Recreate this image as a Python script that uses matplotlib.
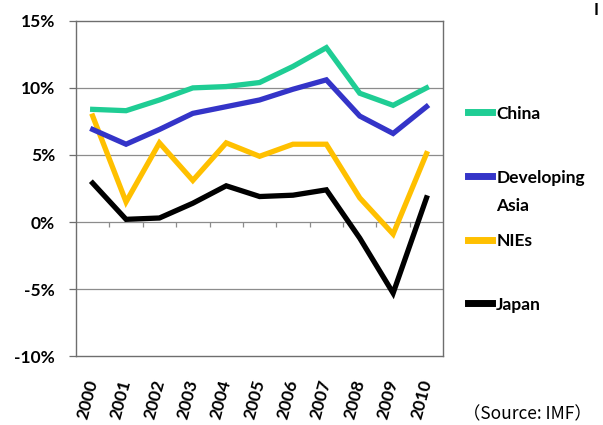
import numpy as np
import matplotlib.pyplot as plt
from matplotlib.lines import Line2D

# GDP growth, % per year
years = ['2000', '2001', '2002', '2003', '2004', '2005',
         '2006', '2007', '2008', '2009', '2010']
china = [8.4, 8.3, 9.1, 10.0, 10.1, 10.4, 11.6, 13.0, 9.6, 8.7, 10.0]
dev_asia = [6.9, 5.8, 6.9, 8.1, 8.6, 9.1, 9.9, 10.6, 7.9, 6.6, 8.6]
nies = [7.9, 1.5, 5.9, 3.1, 5.9, 4.9, 5.8, 5.8, 1.8, -0.9, 5.1]
japan = [2.9, 0.2, 0.3, 1.4, 2.7, 1.9, 2.0, 2.4, -1.2, -5.3, 1.8]
y_ticks = [-10, -5, 0, 5, 10, 15]

font = ['Lato', 'DejaVu Sans']

series = [
    ('China', china, '#1fcd94'),
    ('Developing\nAsia', dev_asia, '#3434c8'),
    ('NIEs', nies, '#ffc000'),
    ('Japan', japan, '#000000'),
]

fig = plt.figure(figsize=(6.03, 4.25), dpi=100)
ax = fig.add_axes([0.126, 0.162, 0.609, 0.789])

x = np.arange(len(years))
# draw back to front so China ends up on top
for name, vals, col in reversed(series):
    ax.plot(x, vals, color=col, lw=3.8, solid_joinstyle='miter')

ax.set_xlim(-0.5, len(years) - 0.5)
ax.set_ylim(-10, 15)

# gridlines and the zero axis line with its category tick marks
for v in y_ticks[1:-1]:
    ax.axhline(v, color='#8c8c8c', lw=0.9, zorder=0)
ax.vlines(x[:-1] + 0.5, -0.35, 0, color='#8c8c8c', lw=0.9, zorder=0)

for side in ['left', 'bottom', 'top', 'right']:
    ax.spines[side].set_color('#6e6e6e')
    ax.spines[side].set_linewidth(1.0)

ax.set_yticks(y_ticks)
ax.set_yticklabels([f'{v}%' for v in y_ticks], family=font,
                   fontsize=12.5, fontweight='bold')
ax.tick_params(axis='y', length=5, width=0.9, color='#6e6e6e', pad=10)

ax.set_xticks(x)
ax.set_xticklabels(years, family=font, fontsize=12.5, fontweight='bold',
                   rotation=75, ha='right', va='center',
                   rotation_mode='anchor')
ax.tick_params(axis='x', length=0, pad=17)

# legend on the right, one text line at a time so the first line sits on the swatch
leg_y = [0.737, 0.586, 0.436, 0.287]
for (name, vals, col), yy in zip(series, leg_y):
    fig.add_artist(Line2D([0.776, 0.816], [yy, yy], color=col, lw=5,
                          transform=fig.transFigure))
    for i, line in enumerate(name.split('\n')):
        fig.text(0.823, yy - 0.016 - i * 0.066, line, family=font,
                 fontsize=12.5, fontweight='bold', va='baseline', ha='left')

fig.text(0.982, 0.026, '（Source: IMF）',
         family=['Noto Sans CJK JP', 'DejaVu Sans'],
         fontsize=12.5, ha='right', va='center')

# edge of a heading that runs off the right side
fig.text(0.984, 0.995, 'I', family=font, fontsize=12, fontweight='bold',
         ha='left', va='top')

fig.savefig('out.png', dpi=100)
